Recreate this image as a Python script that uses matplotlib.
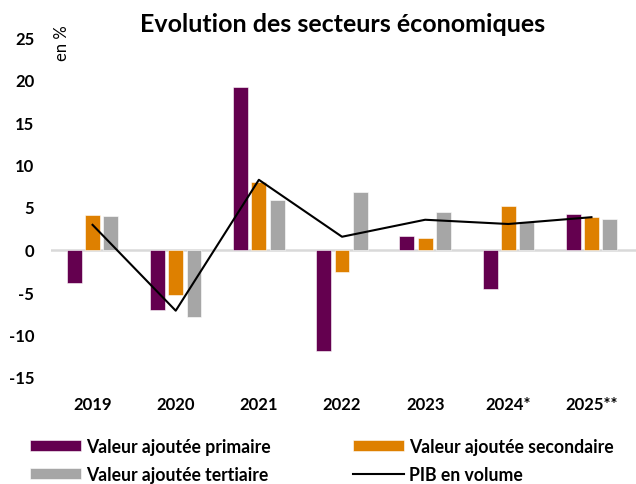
import matplotlib
matplotlib.use("Agg")
import matplotlib.pyplot as plt
import numpy as np

plt.rcParams['font.family'] = ['Lato', 'DejaVu Sans']

years = ["2019", "2020", "2021", "2022", "2023", "2024*", "2025**"]
primaire = [-3.9, -7.1, 19.1, -11.9, 1.6, -4.6, 4.2]
secondaire = [4.1, -5.3, 7.9, -2.7, 1.3, 5.1, 3.8]
tertiaire = [3.9, -7.9, 5.8, 6.8, 4.4, 3.2, 3.6]
pib = [2.9, -7.2, 8.2, 1.5, 3.5, 3.0, 3.8]

c_prim = "#64004F"
c_sec = "#DE8000"
c_ter = "#A6A6A6"

fig = plt.figure(figsize=(6.36, 4.85), dpi=100)
ax = fig.add_axes([51 / 636, 107 / 485, 585 / 636, 340 / 485])

x = np.arange(len(years))
w = 0.18
b1 = ax.bar(x - 0.22, primaire, w, color=c_prim, edgecolor="white", linewidth=0.4, label="Valeur ajoutée primaire")
b2 = ax.bar(x, secondaire, w, color=c_sec, edgecolor="white", linewidth=0.4, label="Valeur ajoutée secondaire")
b3 = ax.bar(x + 0.22, tertiaire, w, color=c_ter, edgecolor="white", linewidth=0.4, label="Valeur ajoutée tertiaire")
l1, = ax.plot(x, pib, color="black", linewidth=1.5, label="PIB en volume", zorder=3)

ax.axhline(0, color="#D9D9D9", linewidth=1.8, zorder=0)

ax.set_xlim(-0.5, len(years) - 0.5 + 3 / 84)
ax.set_ylim(-15, 25)
ax.set_yticks(range(-15, 26, 5))
ax.set_yticklabels([str(v) for v in range(-15, 26, 5)], fontweight="bold", fontsize=12)
ax.set_xticks(x)
ax.set_xticklabels(years, fontweight="bold", fontsize=12)
ax.tick_params(axis="y", length=0, pad=12)
ax.tick_params(axis="x", length=0, pad=14)
for s in ax.spines.values():
    s.set_visible(False)

fig.text(343 / 636, 1 - 25 / 485, "Evolution des secteurs économiques",
         ha="center", va="center", fontsize=18, fontweight="bold")
fig.text(62 / 636, 1 - 43 / 485, "en %", rotation=90, ha="center", va="center", fontsize=12)

leg_kw = dict(frameon=False, handlelength=2.9, handleheight=0.6, handletextpad=0.3,
              labelspacing=0.6, borderaxespad=0, borderpad=0,
              prop={"weight": "bold", "size": 12.7})
fig.legend([b1, b3], ["Valeur ajoutée primaire", "Valeur ajoutée tertiaire"],
           loc="upper left", bbox_to_anchor=(30 / 636, 1 - 439 / 485), **leg_kw)
fig.legend([b2, l1], ["Valeur ajoutée secondaire", "PIB en volume"],
           loc="upper left", bbox_to_anchor=(353 / 636, 1 - 439 / 485), **leg_kw)

fig.savefig("out.png", dpi=100)
